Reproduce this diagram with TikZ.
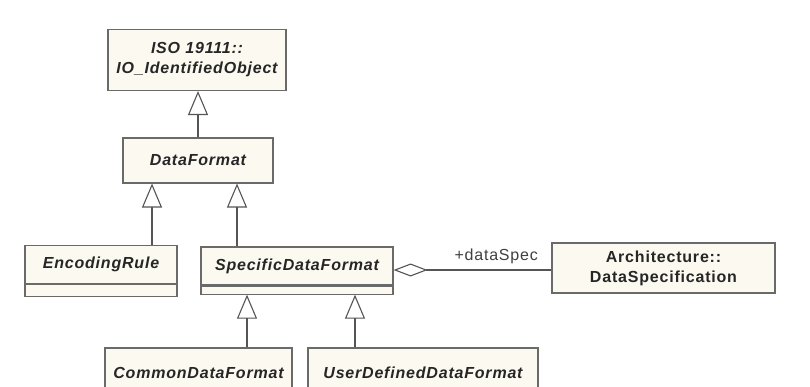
\documentclass[tikz,border=0pt]{standalone}
\usepackage{fontspec}
\setmainfont{Liberation Sans}
\newfontfamily\umlfont[LetterSpace=5]{Liberation Sans}
\usetikzlibrary{positioning, calc, arrows.meta}
\definecolor{boxfill}{HTML}{FCF9F1}
\definecolor{boxline}{HTML}{6A6A6A}
\definecolor{connline}{HTML}{555555}

\begin{document}
\begin{tikzpicture}[x=1pt, y=-1pt,
    cls/.style={draw=boxline, fill=boxfill, line width=1.1pt, inner sep=2pt,
        font=\fontsize{16}{20}\umlfont\bfseries\itshape, text=black!85, align=center},
    clsattr/.style={draw=boxline, fill=boxfill, line width=1.1pt, inner sep=0pt},
    gen/.style={draw=connline, line width=1.1pt,
        -{Triangle[open, length=24pt, width=20pt, line width=1.1pt]}},
    agg/.style={draw=connline, line width=1.1pt,
        -{Diamond[open, length=34pt, width=13pt, line width=1.1pt]}}]
    \useasboundingbox (0,0) rectangle (810,387);
    \clip (0,0) rectangle (810,387);
    \fill[white] (0,0) rectangle (810,387);
    \node[cls, minimum width=178pt, minimum height=61pt] (iso) at (197,60) {ISO 19111::\\IO\_IdentifiedObject};
    \node[cls, minimum width=150pt, minimum height=45pt] (df) at (198,160.5) {DataFormat};
    \node[cls, minimum width=152pt, minimum height=38pt] (enc) at (101,264.5) {EncodingRule};
    \node[clsattr, minimum width=152pt, minimum height=12pt, below=0pt of enc] (encattr) {};
    \node[cls, minimum width=192pt, minimum height=38pt] (sdf) at (297,266) {SpecificDataFormat};
    \node[clsattr, minimum width=192pt, minimum height=8pt, below=0pt of sdf] (sdfattr) {};
    \node[cls, font=\fontsize{16}{20}\umlfont\bfseries, minimum width=223pt, minimum height=50pt] (arch) at (663.5,268) {Architecture::\\DataSpecification};
    \node[cls, minimum width=187pt, minimum height=50pt] (cdf) at (198.5,373) {CommonDataFormat};
    \node[cls, minimum width=230pt, minimum height=50pt] (udf) at (423,373) {UserDefinedDataFormat};
    % generalisations
    \draw[gen] (df.north) -- (df.north |- iso.south);
    \draw[gen] ([xshift=51pt]enc.north) -- ([xshift=51pt]enc.north |- df.south);
    \draw[gen] ([xshift=-60pt]sdf.north) -- ([xshift=-60pt]sdf.north |- df.south);
    \draw[gen] ([xshift=48.5pt]cdf.north) -- ([xshift=48.5pt]cdf.north |- sdfattr.south);
    \draw[gen] ([xshift=-68pt]udf.north) -- ([xshift=-68pt]udf.north |- sdfattr.south);
    % aggregation
    \draw[agg] ([yshift=-2pt]arch.west) -- ([yshift=-2pt]arch.west -| sdf.east)
        node[pos=0.35, above=2pt, font=\fontsize{16}{20}\umlfont, text=black!75] (role) {+dataSpec};
\end{tikzpicture}
\end{document}
